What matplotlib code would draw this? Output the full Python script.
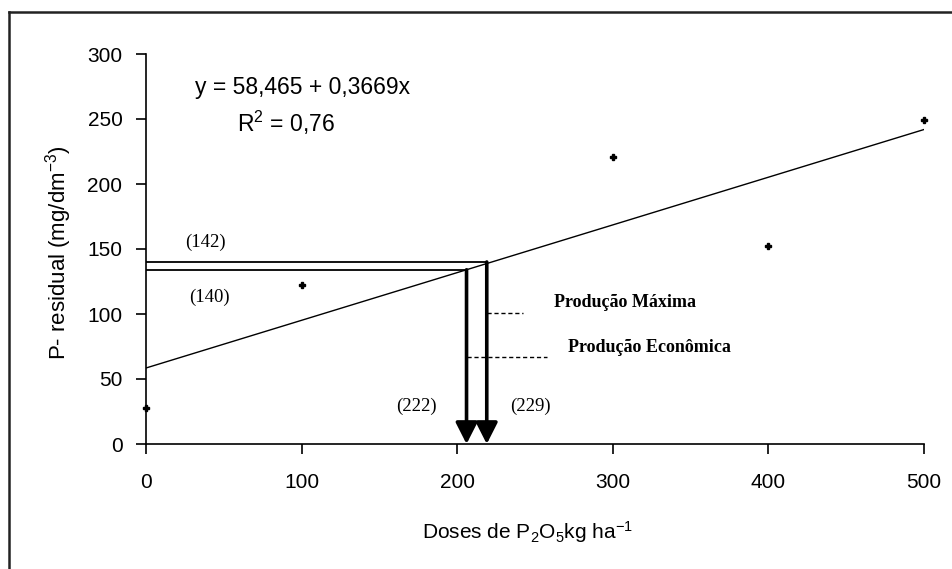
import matplotlib
matplotlib.use('Agg')
import matplotlib.pyplot as plt
from matplotlib.lines import Line2D

plt.rcParams['font.family'] = ['Liberation Sans', 'DejaVu Sans']
plt.rcParams['mathtext.default'] = 'regular'

# observed values
doses = [0, 100, 300, 400, 500]
p_residual = [28, 122, 221, 152, 249]

# fitted line y = a + b x
intercept = 58.465
slope = 0.3669
line_x = [0, 500]

# economic / maximum production points
econ_x, econ_y = 206, 134
max_x, max_y = 219, 140
econ_dash = [206, 258]
max_dash = [219, 242]
econ_dash_y = 67
max_dash_y = 101

xticks = [0, 100, 200, 300, 400, 500]
yticks = [0, 50, 100, 150, 200, 250, 300]


def main():
    fig = plt.figure(figsize=(9.52, 5.69), dpi=100)
    ax = fig.add_axes([146 / 952, 1 - 444 / 569, (924 - 146) / 952, (444 - 54) / 569])

    # outer frame (only left and top visible in the original crop)
    fig.add_artist(Line2D([9 / 952, 9 / 952], [0, 1 - 12 / 569], transform=fig.transFigure,
                          color='#222222', lw=1.8))
    fig.add_artist(Line2D([9 / 952, 1], [1 - 12 / 569, 1 - 12 / 569], transform=fig.transFigure,
                          color='#222222', lw=1.8))

    fit_y = [intercept + slope * x for x in line_x]
    ax.plot(line_x, fit_y, color='black', lw=1.0)
    ax.plot(doses, p_residual, ls='none', marker='P', ms=5, color='black', clip_on=False)

    # horizontal reference lines
    ax.plot([0, max_x], [max_y, max_y], color='black', lw=1.3)
    ax.plot([0, econ_x], [econ_y, econ_y], color='black', lw=1.3)

    # vertical arrows down to the x axis
    for xv, yv in [(econ_x, econ_y), (max_x, max_y)]:
        ax.annotate('', xy=(xv, 0), xytext=(xv, yv),
                    arrowprops=dict(arrowstyle='-|>,head_length=0.65,head_width=0.33',
                                    lw=2.6, color='black', mutation_scale=20,
                                    shrinkA=0, shrinkB=0))

    # dashed leaders
    ax.plot(max_dash, [max_dash_y, max_dash_y], color='black', lw=1.0, ls=(0, (3, 2)))
    ax.plot(econ_dash, [econ_dash_y, econ_dash_y], color='black', lw=1.0, ls=(0, (3, 2)))

    serif = ['Liberation Serif', 'DejaVu Serif']
    ax.text(262, 109, 'Produção Máxima', family=serif, fontweight='bold', fontsize=13,
            va='center', ha='left')
    ax.text(271, 74.5, 'Produção Econômica', family=serif, fontweight='bold', fontsize=13,
            va='center', ha='left')

    ax.text(25, 155, '(142)', family=serif, fontsize=13.5, va='center')
    ax.text(28, 113, '(140)', family=serif, fontsize=13.5, va='center')
    ax.text(161, 29, '(222)', family=serif, fontsize=13.5, va='center')
    ax.text(234, 29, '(229)', family=serif, fontsize=13.5, va='center')

    ax.text(31.5, 274, 'y = 58,465 + 0,3669x', fontsize=16.5, va='center')
    ax.text(58.5, 247, 'R$^2$ = 0,76', fontsize=16.5, va='center')

    ax.set_xlim(0, 500)
    ax.set_ylim(0, 300)
    ax.set_xticks(xticks)
    ax.set_yticks(yticks)
    ax.spines['top'].set_visible(False)
    ax.spines['right'].set_visible(False)
    ax.tick_params(direction='out', length=7, width=1.2, labelsize=15)
    ax.tick_params(axis='y', pad=10)
    ax.tick_params(axis='x', pad=14)
    for s in ['left', 'bottom']:
        ax.spines[s].set_linewidth(1.2)

    ax.set_xlabel('Doses de P$_2$O$_5$kg ha$^{-1}$', fontsize=15)
    ax.xaxis.label.set_va('center')
    ax.xaxis.set_label_coords(0.49, -0.226)
    ax.set_ylabel('P- residual (mg/dm$^{-3}$)', fontsize=16)
    ax.yaxis.label.set_va('center')
    ax.yaxis.set_label_coords(-0.113, 0.49)

    fig.savefig('out.png', dpi=100)


if __name__ == "__main__":
    main()
